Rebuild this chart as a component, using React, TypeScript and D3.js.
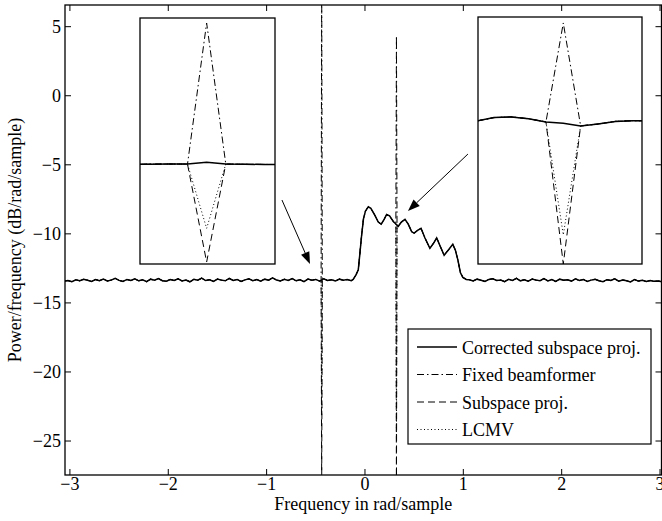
import React from 'react';
import * as d3 from 'd3';

// noise floor left of the band, sampled every 0.04 rad from -3.06
const noiseLeftDb = [
  -13.42, -13.38, -13.47, -13.33, -13.4, -13.29, -13.36, -13.45, -13.31, -13.39,
  -13.27, -13.41, -13.35, -13.22, -13.37, -13.44, -13.3, -13.38, -13.26, -13.4,
  -13.33, -13.46, -13.28, -13.36, -13.24, -13.39, -13.43, -13.31, -13.37, -13.25,
  -13.41, -13.34, -13.47, -13.29, -13.36, -13.21, -13.38, -13.32, -13.44, -13.27,
  -13.35, -13.4, -13.23, -13.37, -13.3, -13.45, -13.33, -13.26, -13.39, -13.31,
  -13.42, -13.28, -13.36, -13.19, -13.34, -13.41, -13.29, -13.37, -13.24, -13.4,
  -13.32, -13.46, -13.27, -13.35, -13.3, -13.43, -13.25, -13.38, -13.33, -13.41,
  -13.28, -13.36, -13.31, -13.39,
];

// the signal band
const bumpFreq = [
  -0.12, -0.09, -0.068, -0.05, -0.034, -0.015, 0.005, 0.034, 0.06, 0.1,
  0.135, 0.165, 0.195, 0.22, 0.25, 0.288, 0.339, 0.37, 0.407, 0.44,
  0.475, 0.5, 0.535, 0.57, 0.61, 0.66, 0.695, 0.729, 0.765, 0.805,
  0.85, 0.893, 0.92, 0.945, 0.97, 0.995, 1.03,
];
const bumpDb = [
  -13.3, -12.95, -12.6, -11.3, -10.1, -8.9, -8.35, -8.04, -8.15, -8.65,
  -9.15, -9.3, -8.95, -8.6, -8.7, -9.1, -9.45, -9.15, -8.95, -9.3,
  -9.85, -9.95, -9.75, -9.6, -10.3, -11.05, -10.7, -10.3, -10.9, -11.55,
  -11.15, -10.75, -11.2, -11.9, -12.8, -13.15, -13.3,
];

// noise floor right of the band, every 0.04 rad from 1.06
const noiseRightDb = [
  -13.33, -13.41, -13.28, -13.36, -13.44, -13.3, -13.25, -13.38, -13.34, -13.46,
  -13.29, -13.37, -13.22, -13.4, -13.32, -13.43, -13.27, -13.35, -13.39, -13.24,
  -13.41, -13.31, -13.45, -13.28, -13.36, -13.33, -13.42, -13.26, -13.38, -13.3,
  -13.44, -13.35, -13.29, -13.4, -13.47, -13.32, -13.37, -13.25, -13.43, -13.34,
  -13.39, -13.48, -13.31, -13.42, -13.36, -13.45, -13.38, -13.44, -13.41, -13.47,
];

// interferers
const interfererFreq = [-0.44, 0.32];
const spikeEdgeDb = [[-13.33, -13.36], [-9.3, -9.38]];
const fixedPeakDb = [8.0, 4.33];
const subspaceNullDb = [-28.2, -28.8];
const lcmvNullDb = [-23.1, -24.8];

// zoomed views, in samples around each interferer
const insetIdx = [-5, -4, -3, -2, -1, 0, 1, 2, 3, 4, 5];
const leftInsetDb = [-13.41, -13.4, -13.38, -13.36, -13.37, -13.08, -13.36, -13.4, -13.42, -13.44, -13.43];
const rightInsetDb = [-9.15, -8.68, -8.58, -8.84, -9.27, -9.45, -9.82, -9.56, -9.2, -9.1, -9.12];

const xTicks = [-3, -2, -1, 0, 1, 2, 3];
const yTicks = [-25, -20, -15, -10, -5, 0, 5];
const seriesNames = ['Corrected subspace proj.', 'Fixed beamformer', 'Subspace proj.', 'LCMV'];

const W = 662, H = 521;
const left = 65, right = 661.5, top = 5, bottom = 475;
const font = '"Liberation Serif", "Times New Roman", Times, serif';
const dashes = [null, '7,3,1.5,3', '7,4', '1,2.5'];
const widths = [1.5, 1, 1, 1];

type Pt = [number, number];

function App() {
  const x = d3.scaleLinear().domain([-3.05, 3.015]).range([left, right]);
  const y = d3.scaleLinear().domain([-27.46, 6.57]).range([bottom, top]);

  const base: Pt[] = [
    ...noiseLeftDb.map((v, i) => [-3.06 + 0.04 * i, v] as Pt),
    ...bumpFreq.map((f, i) => [f, bumpDb[i]] as Pt),
    ...noiseRightDb.map((v, i) => [1.06 + 0.04 * i, v] as Pt),
  ];

  const withSpikes = (vals: number[] | null): Pt[] => {
    if (!vals) return base;
    const extra: Pt[] = [];
    interfererFreq.forEach((f, k) => {
      extra.push([f - 0.006, spikeEdgeDb[k][0]], [f, vals[k]], [f + 0.006, spikeEdgeDb[k][1]]);
    });
    return [...base.filter(p => !interfererFreq.some(f => Math.abs(p[0] - f) < 0.007)), ...extra]
      .sort((a, b) => a[0] - b[0]);
  };

  const series = [null, fixedPeakDb, subspaceNullDb, lcmvNullDb].map(withSpikes);
  const line = d3.line<Pt>().x(d => x(d[0])).y(d => y(d[1]));

  const insets = [
    { x0: 140, x1: 275, y0: 18, y1: 264, xd: [-3.48, 3.57], yd: [-28.5, 8.76], baseDb: leftInsetDb, k: 0 },
    { x0: 478, x1: 642, y0: 17, y1: 264, xd: [-4.92, 4.54], yd: [-28.8, 5.15], baseDb: rightInsetDb, k: 1 },
  ];

  const arrows = [
    { from: [-0.844, -7.55], to: [-0.559, -12.18] },
    { from: [1.047, -4.22], to: [0.437, -8.35] },
  ];

  const legend = { x0: 408, y0: 329, x1: 651, y1: 444 };
  const rowY = d3.range(4).map(i => 347 + i * 27.5);

  return (
    <svg width={W} height={H} style={{ position: 'absolute', left: 0, top: 0, background: '#fff' }}
      fontFamily={font}>
      <defs>
        <clipPath id="plot"><rect x={left} y={top} width={right - left} height={bottom - top} /></clipPath>
        {insets.map((s, i) => (
          <clipPath key={i} id={'inset' + i}><rect x={s.x0} y={s.y0} width={s.x1 - s.x0} height={s.y1 - s.y0} /></clipPath>
        ))}
      </defs>
      <rect x={0} y={0} width={W} height={H} fill="#fff" />

      <g clipPath="url(#plot)">
        {series.map((d, i) => (
          <path key={i} d={line(d) || ''} fill="none" stroke="#000" strokeWidth={widths[i]}
            strokeDasharray={dashes[i] || undefined} />
        ))}
      </g>

      {/* axes box and ticks */}
      <rect x={left} y={top} width={right - left} height={bottom - top} fill="none" stroke="#000" strokeWidth={1.3} />
      {xTicks.map(t => (
        <g key={'x' + t}>
          <line x1={x(t)} x2={x(t)} y1={bottom} y2={bottom - 6} stroke="#000" />
          <line x1={x(t)} x2={x(t)} y1={top} y2={top + 6} stroke="#000" />
          <text x={x(t)} y={490} fontSize={18} textAnchor="middle">{t < 0 ? '\u2212' + -t : t}</text>
        </g>
      ))}
      {yTicks.map(t => (
        <g key={'y' + t}>
          <line x1={left} x2={left + 6} y1={y(t)} y2={y(t)} stroke="#000" />
          <line x1={right} x2={right - 6} y1={y(t)} y2={y(t)} stroke="#000" />
          <text x={61} y={y(t) + 6} fontSize={18} textAnchor="end">{t < 0 ? '\u2212' + -t : t}</text>
        </g>
      ))}
      <text x={(left + right) / 2} y={510} fontSize={18} textAnchor="middle">Frequency in rad/sample</text>
      <text transform={`translate(21,${(top + bottom) / 2}) rotate(-90)`} fontSize={18} textAnchor="middle">
        Power/frequency (dB/rad/sample)
      </text>

      {/* zoomed views */}
      {insets.map((s, i) => {
        const ix = d3.scaleLinear().domain(s.xd).range([s.x0, s.x1]);
        const iy = d3.scaleLinear().domain(s.yd).range([s.y1, s.y0]);
        const il = d3.line<Pt>().x(d => ix(d[0])).y(d => iy(d[1]));
        const vals = [null, fixedPeakDb[s.k], subspaceNullDb[s.k], lcmvNullDb[s.k]];
        return (
          <g key={'in' + i}>
            <rect x={s.x0} y={s.y0} width={s.x1 - s.x0} height={s.y1 - s.y0} fill="#fff" />
            <g clipPath={`url(#inset${i})`}>
              {vals.map((v, j) => {
                const pts: Pt[] = insetIdx.map((n, m) => [n, n === 0 && v !== null ? v : s.baseDb[m]]);
                return (
                  <path key={j} d={il(pts) || ''} fill="none" stroke="#000" strokeWidth={widths[j]}
                    strokeDasharray={dashes[j] || undefined} />
                );
              })}
            </g>
            <rect x={s.x0} y={s.y0} width={s.x1 - s.x0} height={s.y1 - s.y0} fill="none" stroke="#000" strokeWidth={1.3} />
          </g>
        );
      })}

      {/* arrows */}
      {arrows.map((a, i) => {
        const x1 = x(a.from[0]), y1 = y(a.from[1]), x2 = x(a.to[0]), y2 = y(a.to[1]);
        const ang = Math.atan2(y2 - y1, x2 - x1);
        const L = 12, Wd = 4.5;
        const bx = x2 - L * Math.cos(ang), by = y2 - L * Math.sin(ang);
        const px = -Math.sin(ang) * Wd, py = Math.cos(ang) * Wd;
        return (
          <g key={'ar' + i}>
            <line x1={x1} y1={y1} x2={bx} y2={by} stroke="#000" strokeWidth={1} />
            <polygon points={`${x2},${y2} ${bx + px},${by + py} ${bx - px},${by - py}`} fill="#000" />
          </g>
        );
      })}

      {/* legend */}
      <rect x={legend.x0} y={legend.y0} width={legend.x1 - legend.x0} height={legend.y1 - legend.y0}
        fill="#fff" stroke="#000" strokeWidth={1.2} />
      {seriesNames.map((n, i) => (
        <g key={n}>
          <line x1={417} x2={457} y1={rowY[i]} y2={rowY[i]} stroke="#000" strokeWidth={widths[i]}
            strokeDasharray={dashes[i] || undefined} />
          <text x={462} y={rowY[i] + 6.5} fontSize={18}>{n}</text>
        </g>
      ))}
    </svg>
  );
}

export default App;
